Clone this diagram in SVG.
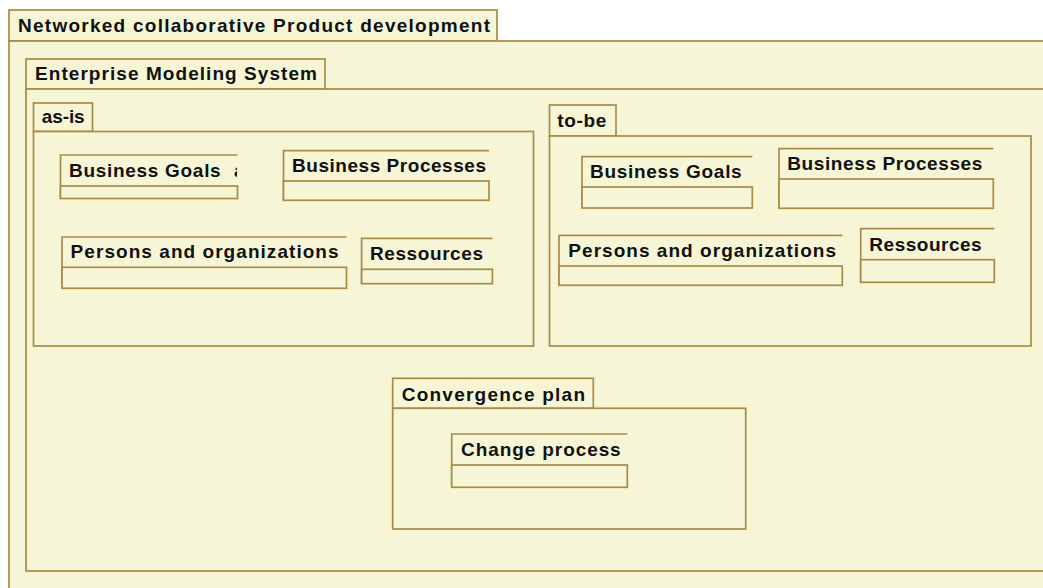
<svg xmlns="http://www.w3.org/2000/svg" width="1043" height="588" viewBox="0 0 1043 588">
<style>
.pk{fill:#F6F6D6;stroke:#A98B47;stroke-width:1.7}
.ln{fill:none;stroke:#A98B47;stroke-width:1.7}
.cp{fill:#F6F6D6;stroke:#A98B47;stroke-width:1.7}
.t{font-family:"Liberation Sans",Arial,sans-serif;font-weight:bold;font-size:19px;fill:#111111;lengthAdjust:spacing}
</style>
<defs>
<clipPath id="clipBG"><rect x="60" y="150" width="177" height="40"/></clipPath>
</defs>
<rect x="0" y="0" width="1043" height="588" fill="#FFFFFF"/>

<g id="pkg-networked">
<rect class="pk" x="9" y="10" width="488" height="31"/>
<rect class="pk" x="9" y="41" width="1100" height="600"/>
<text class="t" x="18" y="32" textLength="472" lengthAdjust="spacing">Networked collaborative Product development</text>
</g>

<g id="pkg-ems">
<rect class="pk" x="26" y="59" width="299" height="30"/>
<rect class="pk" x="26" y="89" width="1100" height="482"/>
<text class="t" x="35" y="80" textLength="282" lengthAdjust="spacing">Enterprise Modeling System</text>
</g>

<g id="pkg-asis">
<rect class="pk" x="33.5" y="103" width="59" height="28.5"/>
<rect class="pk" x="33.5" y="131.5" width="500" height="214.5"/>
<text class="t" x="41.7" y="123" textLength="43" lengthAdjust="spacing">as-is</text>
</g>

<g id="pkg-tobe">
<rect class="pk" x="549.5" y="105" width="66.5" height="31"/>
<rect class="pk" x="549.5" y="136" width="481.5" height="210"/>
<text class="t" x="557.3" y="126.7" textLength="49" lengthAdjust="spacing">to-be</text>
</g>

<g id="asis-business-goals">
<path class="ln" d="M60.5,198.5 V155 H237.5"/>
<rect class="cp" x="60.5" y="186" width="177" height="12.5"/>
<text class="t" x="69" y="176.7" clip-path="url(#clipBG)"><tspan textLength="151.7" lengthAdjust="spacing">Business Goals</tspan><tspan x="234">a</tspan></text>
</g>

<g id="asis-business-processes">
<path class="ln" d="M283.5,200 V150.7 H489"/>
<rect class="cp" x="283.5" y="181" width="205.5" height="19.3"/>
<text class="t" x="292" y="171.7" textLength="194" lengthAdjust="spacing">Business Processes</text>
</g>

<g id="asis-persons">
<path class="ln" d="M62,288 V237 H346.5"/>
<rect class="cp" x="62" y="267.3" width="284.5" height="21"/>
<text class="t" x="70.6" y="258.3" textLength="268" lengthAdjust="spacing">Persons and organizations</text>
</g>

<g id="asis-ressources">
<path class="ln" d="M361.6,283.7 V238.3 H492.4"/>
<rect class="cp" x="361.6" y="269.3" width="130.8" height="14.4"/>
<text class="t" x="370" y="260" textLength="113" lengthAdjust="spacing">Ressources</text>
</g>

<g id="tobe-business-goals">
<path class="ln" d="M582,208 V156.7 H752.3"/>
<rect class="cp" x="582" y="187" width="170.3" height="21"/>
<text class="t" x="590" y="178.3" textLength="151.7" lengthAdjust="spacing">Business Goals</text>
</g>

<g id="tobe-business-processes">
<path class="ln" d="M779,208.3 V148.7 H993.3"/>
<rect class="cp" x="779" y="179" width="214.3" height="29.3"/>
<text class="t" x="787.3" y="170" textLength="195" lengthAdjust="spacing">Business Processes</text>
</g>

<g id="tobe-persons">
<path class="ln" d="M559,285.3 V235.3 H842.3"/>
<rect class="cp" x="559" y="266" width="283.3" height="19.3"/>
<text class="t" x="568.3" y="256.7" textLength="267.7" lengthAdjust="spacing">Persons and organizations</text>
</g>

<g id="tobe-ressources">
<path class="ln" d="M860.7,282.3 V228.7 H994.3"/>
<rect class="cp" x="860.7" y="259.7" width="133.6" height="22.6"/>
<text class="t" x="869.3" y="250.7" textLength="112.4" lengthAdjust="spacing">Ressources</text>
</g>

<g id="pkg-convergence">
<rect class="pk" x="392.7" y="378.3" width="200.6" height="30"/>
<rect class="pk" x="392.7" y="408.3" width="353" height="120.7"/>
<text class="t" x="401.7" y="400.7" textLength="183.3" lengthAdjust="spacing">Convergence plan</text>
</g>

<g id="change-process">
<path class="ln" d="M451.7,487.3 V434 H627.3"/>
<rect class="cp" x="451.7" y="465" width="175.6" height="22.3"/>
<text class="t" x="461" y="456" textLength="159.7" lengthAdjust="spacing">Change process</text>
</g>

<g id="connectors"></g>
</svg>
